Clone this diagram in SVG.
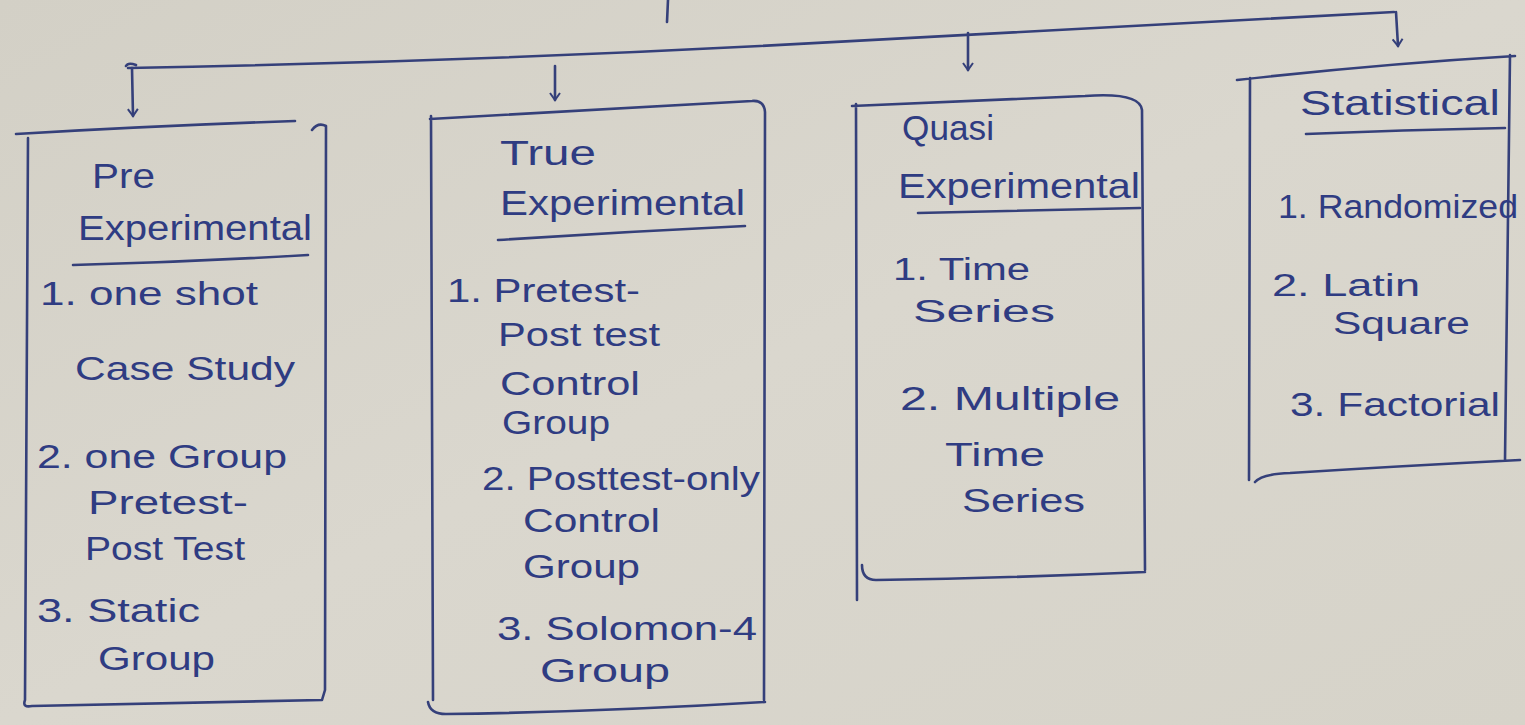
<svg xmlns="http://www.w3.org/2000/svg" width="1525" height="725" viewBox="0 0 1525 725">
  <defs>
    <linearGradient id="paper" x1="0" y1="0" x2="1" y2="1">
      <stop offset="0" stop-color="#d3d0c6"/>
      <stop offset="0.5" stop-color="#dad7ce"/>
      <stop offset="1" stop-color="#d6d3c9"/>
    </linearGradient>
    <marker id="tip" viewBox="0 0 12 12" refX="10" refY="6" markerWidth="12" markerHeight="12" markerUnits="userSpaceOnUse" orient="auto">
      <path d="M3,1 L10,6 L3,11" fill="none" stroke="#35407a" stroke-width="2"/>
    </marker>
    <style>
      .ink { fill: none; stroke: #35407a; stroke-width: 2.6; stroke-linecap: round; stroke-linejoin: round; }
      .txt { font-family: "Liberation Sans", "DejaVu Sans", sans-serif; font-size: 34px; fill: #2f3c82; }
      .head { font-size: 35px; }
      .tight { font-size: 31px; }
    </style>
  </defs>

  <rect x="0" y="0" width="1525" height="725" fill="url(#paper)"/>

  <!-- connectors: stem, bus line and drops to each category -->
  <g id="connectors">
    <path class="ink" d="M668,0 L667,22"/>
    <path class="ink" d="M136,65 Q128,62 126,66 M128,68 Q450,62 760,46 Q1080,28 1394,12"/>
    <path class="ink" d="M132,68 L133,116" marker-end="url(#tip)"/>
    <path class="ink" d="M555,66 L555,100" marker-end="url(#tip)"/>
    <path class="ink" d="M968,33 L968,70" marker-end="url(#tip)"/>
    <path class="ink" d="M1396,12 L1398,46" marker-end="url(#tip)"/>
  </g>

  <!-- Pre Experimental -->
  <g id="pre-experimental">
    <path class="ink" d="M16,134 Q150,126 295,121 M312,130 Q318,122 326,126 L325,690 L322,700 M28,138 L25,700 Q22,708 32,706 Q180,703 322,700"/>
    <text class="txt head" x="92" y="188" textLength="63" lengthAdjust="spacingAndGlyphs">Pre</text>
    <text class="txt head" x="78" y="240" textLength="234" lengthAdjust="spacingAndGlyphs">Experimental</text>
    <path class="ink" d="M73,265 Q190,262 308,255"/>
    <text class="txt" x="40" y="305" textLength="218" lengthAdjust="spacingAndGlyphs">1. one shot</text>
    <text class="txt" x="75" y="380" textLength="220" lengthAdjust="spacingAndGlyphs">Case Study</text>
    <text class="txt" x="37" y="468" textLength="250" lengthAdjust="spacingAndGlyphs">2. one Group</text>
    <text class="txt" x="88" y="514" textLength="160" lengthAdjust="spacingAndGlyphs">Pretest-</text>
    <text class="txt" x="85" y="560" textLength="160" lengthAdjust="spacingAndGlyphs">Post Test</text>
    <text class="txt" x="37" y="622" textLength="163" lengthAdjust="spacingAndGlyphs">3. Static</text>
    <text class="txt" x="98" y="670" textLength="117" lengthAdjust="spacingAndGlyphs">Group</text>
  </g>

  <!-- True Experimental -->
  <g id="true-experimental">
    <path class="ink" d="M430,119 Q600,110 752,101 Q764,100 765,112 L764,700 M431,116 L433,700 M428,702 Q430,714 446,714 Q600,712 765,702"/>
    <text class="txt head" x="500" y="165" textLength="96" lengthAdjust="spacingAndGlyphs">True</text>
    <text class="txt head" x="500" y="215" textLength="245" lengthAdjust="spacingAndGlyphs">Experimental</text>
    <path class="ink" d="M498,240 Q620,232 745,226"/>
    <text class="txt" x="447" y="302" textLength="193" lengthAdjust="spacingAndGlyphs">1. Pretest-</text>
    <text class="txt" x="498" y="346" textLength="162" lengthAdjust="spacingAndGlyphs">Post test</text>
    <text class="txt" x="500" y="395" textLength="140" lengthAdjust="spacingAndGlyphs">Control</text>
    <text class="txt" x="502" y="434" textLength="108" lengthAdjust="spacingAndGlyphs">Group</text>
    <text class="txt" x="482" y="490" textLength="278" lengthAdjust="spacingAndGlyphs">2. Posttest-only</text>
    <text class="txt" x="523" y="532" textLength="137" lengthAdjust="spacingAndGlyphs">Control</text>
    <text class="txt" x="523" y="578" textLength="117" lengthAdjust="spacingAndGlyphs">Group</text>
    <text class="txt" x="497" y="640" textLength="260" lengthAdjust="spacingAndGlyphs">3. Solomon-4</text>
    <text class="txt" x="540" y="682" textLength="130" lengthAdjust="spacingAndGlyphs">Group</text>
  </g>

  <!-- Quasi Experimental -->
  <g id="quasi-experimental">
    <path class="ink" d="M852,106 Q980,100 1085,96 Q1140,92 1142,110 L1145,570 M856,104 L857,600 M862,565 Q862,580 876,580 Q1010,578 1145,572"/>
    <text class="txt head" x="902" y="140" textLength="92" lengthAdjust="spacingAndGlyphs">Quasi</text>
    <text class="txt head" x="898" y="198" textLength="242" lengthAdjust="spacingAndGlyphs">Experimental</text>
    <path class="ink" d="M918,213 Q1030,210 1140,208"/>
    <text class="txt tight" x="893" y="280" textLength="137" lengthAdjust="spacingAndGlyphs">1. Time</text>
    <text class="txt tight" x="913" y="322" textLength="142" lengthAdjust="spacingAndGlyphs">Series</text>
    <text class="txt" x="900" y="410" textLength="220" lengthAdjust="spacingAndGlyphs">2. Multiple</text>
    <text class="txt" x="945" y="466" textLength="100" lengthAdjust="spacingAndGlyphs">Time</text>
    <text class="txt" x="962" y="512" textLength="123" lengthAdjust="spacingAndGlyphs">Series</text>
  </g>

  <!-- Statistical -->
  <g id="statistical">
    <path class="ink" d="M1237,80 Q1380,64 1515,56 M1250,78 L1249,480 M1510,55 L1505,460 M1255,482 Q1262,474 1290,473 Q1400,466 1520,460"/>
    <text class="txt head" x="1300" y="115" textLength="200" lengthAdjust="spacingAndGlyphs">Statistical</text>
    <path class="ink" d="M1306,134 Q1400,130 1505,128"/>
    <text class="txt" x="1278" y="218" textLength="240" lengthAdjust="spacingAndGlyphs">1. Randomized</text>
    <text class="txt tight" x="1272" y="296" textLength="148" lengthAdjust="spacingAndGlyphs">2. Latin</text>
    <text class="txt tight" x="1333" y="334" textLength="137" lengthAdjust="spacingAndGlyphs">Square</text>
    <text class="txt" x="1290" y="416" textLength="210" lengthAdjust="spacingAndGlyphs">3. Factorial</text>
  </g>
</svg>
